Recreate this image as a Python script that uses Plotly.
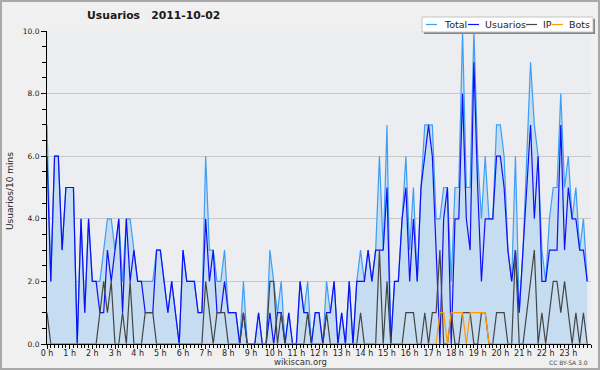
import plotly.graph_objects as go

# 10-minute slots of the day (0 = 00:00 ... 143 = 23:50)
SLOTS = list(range(144))
HOUR_TICKS = list(range(0, 144, 6))
HOUR_LABELS = ["0 h", "1 h", "2 h", "3 h", "4 h", "5 h", "6 h", "7 h", "8 h", "9 h",
               "10 h", "11 h", "12 h", "13 h", "14 h", "15 h", "16 h", "17 h", "18 h",
               "19 h", "20 h", "21 h", "22 h", "23 h"]
Y_TICKS = [0, 2, 4, 6, 8, 10]

TOTAL = [7, 2, 6, 6, 3, 5, 5, 5, 0, 4,
         1, 4, 2, 2, 2, 3, 4, 4, 3, 4,
         2, 4, 4, 3, 2, 2, 2, 2, 2, 3,
         3, 2, 1, 2, 1, 0, 3, 2, 2, 2,
         1, 1, 6, 3, 3, 2, 2, 3, 1, 1,
         1, 0, 2, 0, 0, 0, 1, 0, 0, 3,
         2, 1, 2, 0, 1, 0, 0, 2, 1, 2,
         0, 1, 1, 0, 2, 1, 2, 0, 1, 0,
         2, 0, 2, 3, 2, 3, 2, 3, 6, 3,
         7, 0, 2, 2, 4, 6, 3, 5, 2, 5,
         7, 7, 7, 4, 4, 5, 5, 2, 5, 5,
         10, 5, 5, 10, 6, 4, 6, 4, 4, 7,
         7, 6, 3, 2, 6, 1, 3, 6, 9, 7,
         6, 3, 2, 4, 5, 5, 8, 5, 6, 4,
         5, 3, 4, 2]

USUARIOS = [6, 2, 6, 6, 3, 5, 5, 5, 0, 4,
            1, 4, 2, 2, 1, 1, 3, 2, 3, 4,
            1, 4, 2, 3, 2, 2, 1, 1, 1, 3,
            3, 2, 1, 2, 1, 0, 3, 2, 2, 2,
            1, 1, 4, 2, 3, 1, 1, 2, 1, 1,
            1, 0, 1, 0, 0, 0, 1, 0, 0, 1,
            0, 1, 1, 0, 1, 0, 0, 2, 1, 1,
            0, 1, 1, 0, 1, 1, 2, 0, 1, 0,
            2, 0, 2, 2, 2, 3, 2, 3, 3, 3,
            5, 0, 2, 2, 4, 5, 2, 4, 2, 5,
            6, 7, 6, 3, 0, 4, 5, 0, 4, 4,
            8, 4, 3, 9, 5, 2, 4, 4, 4, 6,
            6, 5, 3, 2, 3, 1, 3, 5, 7, 4,
            6, 2, 2, 3, 3, 3, 7, 3, 5, 4,
            4, 3, 3, 2]

IP = [1, 0, 0, 0, 0, 0, 0, 0, 0, 0,
      0, 0, 0, 0, 1, 2, 1, 2, 0, 0,
      1, 0, 2, 0, 0, 0, 1, 1, 1, 0,
      0, 0, 0, 0, 0, 0, 0, 0, 0, 0,
      0, 0, 2, 1, 0, 1, 1, 1, 0, 0,
      0, 0, 1, 0, 0, 0, 0, 0, 0, 2,
      2, 0, 1, 0, 0, 0, 0, 0, 0, 1,
      0, 0, 0, 0, 1, 0, 0, 0, 0, 0,
      0, 0, 0, 1, 0, 0, 0, 0, 3, 0,
      2, 0, 0, 0, 0, 1, 1, 1, 0, 0,
      1, 0, 1, 1, 3, 0, 0, 1, 0, 0,
      1, 1, 1, 0, 0, 1, 1, 0, 0, 1,
      1, 1, 0, 0, 3, 0, 0, 1, 2, 3,
      0, 1, 0, 1, 2, 2, 1, 2, 1, 0,
      1, 0, 1, 0]

BOTS = [0, 0, 0, 0, 0, 0, 0, 0, 0, 0,
        0, 0, 0, 0, 0, 0, 0, 0, 0, 0,
        0, 0, 0, 0, 0, 0, 0, 0, 0, 0,
        0, 0, 0, 0, 0, 0, 0, 0, 0, 0,
        0, 0, 0, 0, 0, 0, 0, 0, 0, 0,
        0, 0, 0, 0, 0, 0, 0, 0, 0, 0,
        0, 0, 0, 0, 0, 0, 0, 0, 0, 0,
        0, 0, 0, 0, 0, 0, 0, 0, 0, 0,
        0, 0, 0, 0, 0, 0, 0, 0, 0, 0,
        0, 0, 0, 0, 0, 0, 0, 0, 0, 0,
        0, 0, 0, 0, 1, 1, 0, 1, 1, 1,
        1, 0, 1, 1, 1, 1, 1, 0, 0, 0,
        0, 0, 0, 0, 0, 0, 0, 0, 0, 0,
        0, 0, 0, 0, 0, 0, 0, 0, 0, 0,
        0, 0, 0, 0]

SERIES_NAMES = ["Total", "Usuarios", "IP", "Bots"]
COLORS = ["#3e9ef4", "#1010f5", "#454545", "#ff9a0a"]
FILL = "#c6dcf0"

W, H = 600, 370
ML, MR, MT, MB = 47, 9, 31, 26
PW, PH = W - ML - MR, H - MT - MB
FONT = "DejaVu Sans"


def px(x):
    return (x - ML) / PW


def py(y):
    return (H - MB - y) / PH


fig = go.Figure()
fig.add_trace(go.Scatter(x=SLOTS, y=TOTAL, mode="lines", name=SERIES_NAMES[0],
                         line=dict(color=COLORS[0], width=1.2),
                         fill="tozeroy", fillcolor=FILL))
fig.add_trace(go.Scatter(x=SLOTS, y=USUARIOS, mode="lines", name=SERIES_NAMES[1],
                         line=dict(color=COLORS[1], width=1.2)))
fig.add_trace(go.Scatter(x=SLOTS, y=IP, mode="lines", name=SERIES_NAMES[2],
                         line=dict(color=COLORS[2], width=1.2)))
fig.add_trace(go.Scatter(x=SLOTS, y=BOTS, mode="lines", name=SERIES_NAMES[3],
                         line=dict(color=COLORS[3], width=1.2)))

shapes = []
annotations = []

# outer frame
shapes.append(dict(type="rect", xref="paper", yref="paper",
                   x0=px(1), x1=px(599), y0=py(369), y1=py(1),
                   line=dict(color="#a8a8a8", width=2), layer="above"))

# legend box (shadow + box)
shapes.append(dict(type="rect", xref="paper", yref="paper",
                   x0=px(424), x1=px(595), y0=py(34), y1=py(19),
                   fillcolor="#858585", line=dict(width=0), layer="above"))
shapes.append(dict(type="rect", xref="paper", yref="paper",
                   x0=px(422), x1=px(593), y0=py(32), y1=py(17),
                   fillcolor="#ffffff", line=dict(color="#c4c4c4", width=1), layer="above"))

legend_line_x = [426, 468, 526, 552]
legend_text_x = [442, 483, 541, 567]
for name, col, lx, tx in zip(SERIES_NAMES, COLORS, legend_line_x, legend_text_x):
    shapes.append(dict(type="line", xref="paper", yref="paper",
                       x0=px(lx), x1=px(lx + 11), y0=py(24.5), y1=py(24.5),
                       line=dict(color=col, width=1.2), layer="above"))
    annotations.append(dict(text=name, xref="paper", yref="paper",
                            x=px(tx), y=py(24.5), xanchor="left", yanchor="middle",
                            showarrow=False, font=dict(family=FONT, size=9.5, color="#222222")))

# title
annotations.append(dict(text="<b>Usuarios\u00a0\u00a0 2011-10-02</b>", xref="paper", yref="paper",
                        x=px(85), y=py(16), xanchor="left", yanchor="middle",
                        showarrow=False, font=dict(family=FONT, size=10.8, color="#1a1a1a")))
# y axis title
annotations.append(dict(text="Usuarios/10 mins", xref="paper", yref="paper",
                        x=px(10), y=py(191), xanchor="center", yanchor="middle",
                        textangle=-90, showarrow=False,
                        font=dict(family=FONT, size=9, color="#222222")))
# footer
annotations.append(dict(text="wikiscan.org", xref="paper", yref="paper",
                        x=px(300), y=py(362), xanchor="center", yanchor="middle",
                        showarrow=False, font=dict(family=FONT, size=8.5, color="#333333")))
annotations.append(dict(text="CC BY-SA 3.0", xref="paper", yref="paper",
                        x=px(590), y=py(362), xanchor="right", yanchor="middle",
                        showarrow=False, font=dict(family=FONT, size=6, color="#444444")))

fig.update_layout(
    width=W, height=H,
    margin=dict(l=ML, r=MR, t=MT, b=MB, pad=0),
    paper_bgcolor="#f0f0f0",
    plot_bgcolor="#ebedf0",
    showlegend=False,
    font=dict(family=FONT, size=8, color="#222222"),
    shapes=shapes,
    annotations=annotations,
    xaxis=dict(range=[0, 144], tickmode="array", tickvals=HOUR_TICKS, ticktext=HOUR_LABELS,
               ticks="outside", ticklen=4, tickwidth=1, tickcolor="#000000",
               ticklabelstandoff=-3,
               showline=True, linecolor="#000000", linewidth=1,
               showgrid=False, zeroline=False, fixedrange=True,
               tickfont=dict(family=FONT, size=8, color="#222222"),
               minor=dict(dtick=1, tick0=0, ticks="outside", ticklen=3,
                          tickcolor="#000000", showgrid=False)),
    yaxis=dict(range=[0, 10], tickmode="array", tickvals=Y_TICKS, tickformat=".1f",
               ticks="outside", ticklen=5, tickwidth=1, tickcolor="#000000",
               showline=True, linecolor="#000000", linewidth=1,
               showgrid=True, gridcolor="#c8c8c8", gridwidth=1, zeroline=False,
               fixedrange=True,
               tickfont=dict(family=FONT, size=7.5, color="#222222"),
               minor=dict(dtick=0.5, tick0=0, ticks="outside", ticklen=4,
                          tickcolor="#000000", showgrid=False)),
)

fig.write_html("out.html",
               config={"displayModeBar": False, "staticPlot": True},
               post_script="document.body.style.margin='0px';document.body.style.overflow='hidden';")
